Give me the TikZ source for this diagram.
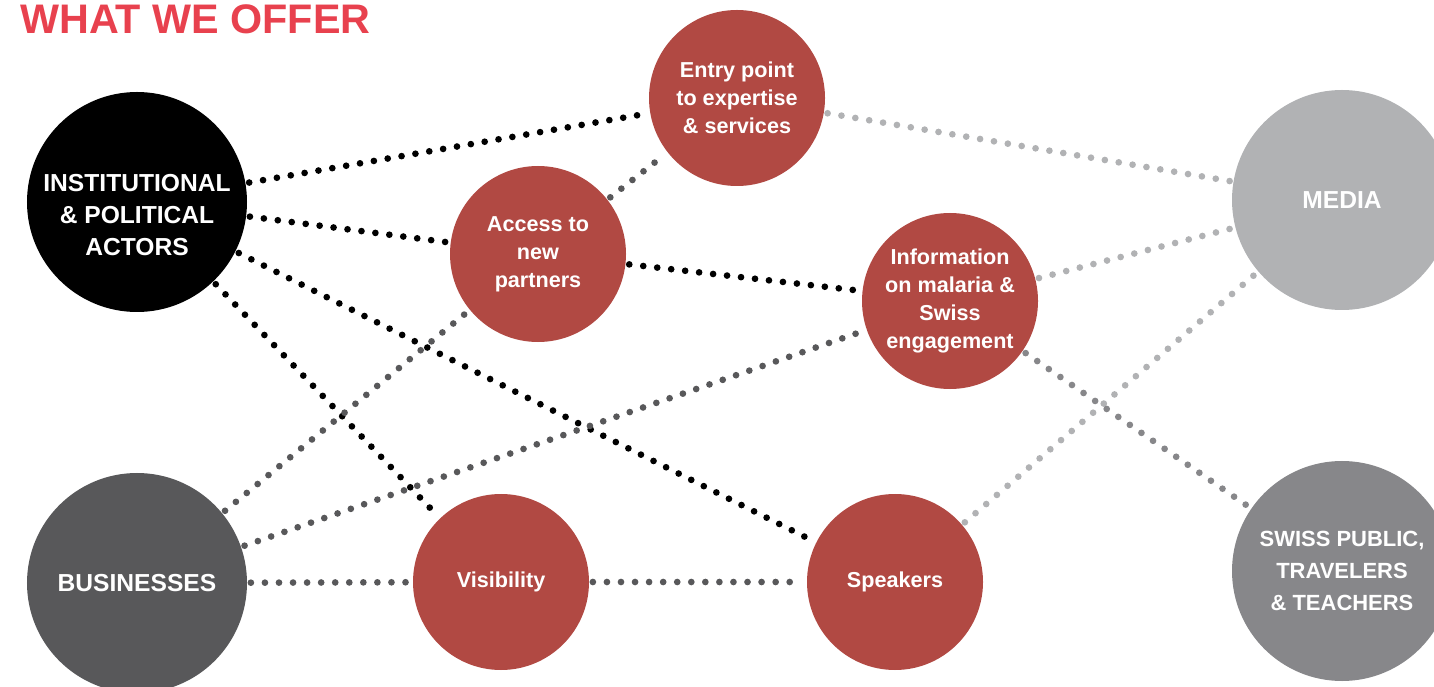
\documentclass[tikz,border=0pt]{standalone}
\usepackage{fontspec}
\setmainfont{Liberation Sans}
\usepackage{xcolor}
\tikzset{>=latex}
\definecolor{offerred}{HTML}{E8414E}
\definecolor{nodered}{HTML}{B14943}
\definecolor{bizgray}{HTML}{58585A}
\definecolor{mediagray}{HTML}{B1B2B4}
\definecolor{publicgray}{HTML}{87878A}
\tikzstyle{actor}=[circle,minimum size=4.4cm,inner sep=0pt,text=white,align=center,font=\fontsize{14}{18.2}\selectfont\bfseries]
\tikzstyle{actortext}=[inner sep=0pt,text=white,align=center,font=\fontsize{14}{18.2}\selectfont\bfseries]
\tikzstyle{offer}=[circle,fill=nodered,minimum size=3.52cm,inner sep=0pt,text=white,align=center,font=\fontsize{12.3}{15.9}\selectfont\bfseries]
\tikzstyle{dots}=[line width=3.8pt,line cap=round,dash pattern=on 0pt off 8pt,shorten <=2pt,shorten >=2pt]

\begin{document}
\begin{tikzpicture}[x=0.2mm,y=-0.2mm]
  \useasboundingbox (0,0) rectangle (1434,687);
  \node[anchor=base west,inner sep=0pt,text=offerred,font=\fontsize{23.5}{28}\selectfont\bfseries] (title) at (20,34) {WHAT WE OFFER};
  % target groups
  \node[actor,fill=black] (inst) at (137,202) {};
  \node[actortext] (insttext) at (137,215) {INSTITUTIONAL\\\& POLITICAL\\ACTORS};
  \node[actor,fill=bizgray] (biz) at (137,583) {BUSINESSES};
  \node[actor,fill=mediagray] (media) at (1342,200) {MEDIA};
  \node[actor,fill=publicgray,font=\fontsize{12.5}{18.2}\selectfont\bfseries] (public) at (1342,571) {SWISS PUBLIC,\\TRAVELERS\\\& TEACHERS};
  % offers
  \node[offer] (entry) at (737,98) {Entry point\\to expertise\\\& services};
  \node[offer] (access) at (538,254) {Access to\\new\\partners};
  \node[offer] (info) at (950,301) {Information\\on malaria \&\\Swiss\\engagement};
  \node[offer] (vis) at (501,582) {Visibility};
  \node[offer] (speak) at (895,582) {Speakers};
  % links
  \draw[dots,black] (inst) -- (entry);
  \draw[dots,black] (inst) -- (access);
  \draw[dots,black] (inst) -- (speak);
  \draw[dots,black] (inst) -- (vis);
  \draw[dots,black] (access) -- (info);
  \draw[dots,bizgray] (biz) -- (access);
  \draw[dots,bizgray] (access) -- (entry);
  \draw[dots,bizgray] (biz) -- (info);
  \draw[dots,bizgray] (biz) -- (vis);
  \draw[dots,bizgray] (vis) -- (speak);
  \draw[dots,mediagray] (entry) -- (media);
  \draw[dots,mediagray] (info) -- (media);
  \draw[dots,mediagray] (speak) -- (media);
  \draw[dots,publicgray] (info) -- (public);
\end{tikzpicture}
\end{document}
